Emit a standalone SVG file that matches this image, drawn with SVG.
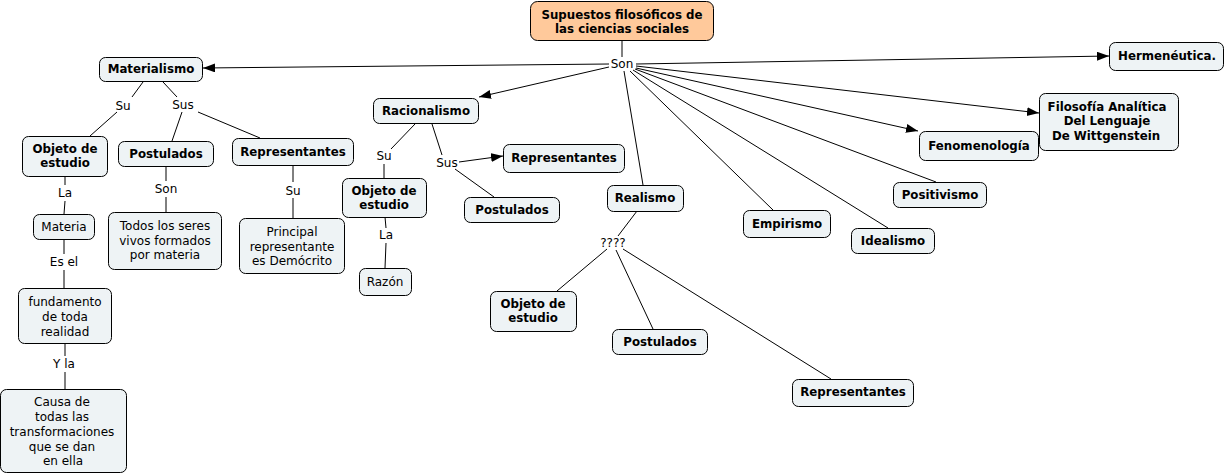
<svg xmlns="http://www.w3.org/2000/svg" width="1227" height="475" viewBox="0 0 1227 475">
<style>
.n rect{fill:#eef3f5;stroke:#000;stroke-width:1}
.root rect{fill:#ffc99b;stroke:#000;stroke-width:1}
text{font-family:"DejaVu Sans","Verdana",sans-serif;fill:#000;text-anchor:middle}
.b{font-weight:bold;font-size:11.8px}
.r{font-size:12px}
.lbl{font-size:12px}
.c line{stroke:#000;stroke-width:1;fill:none}
.c .a{marker-end:url(#ah)}
</style>
<defs>
<marker id="ah" markerUnits="userSpaceOnUse" markerWidth="13" markerHeight="10" refX="12" refY="4.5" orient="auto">
<path d="M0,0 L12,4.5 L0,9 z" fill="#000"/>
</marker>
</defs>
<rect width="1227" height="475" fill="#fff"/>
<g id="connectors" class="c">
<line x1="622" y1="41" x2="622" y2="57"/>
<line class="a" x1="609" y1="64" x2="203" y2="68"/>
<line class="a" x1="609" y1="67" x2="479" y2="97"/>
<line class="a" x1="636" y1="64" x2="1109" y2="56"/>
<line class="a" x1="636" y1="66" x2="1039" y2="113"/>
<line class="a" x1="636" y1="68" x2="918" y2="131"/>
<line x1="635" y1="69" x2="936" y2="182"/>
<line x1="633" y1="70" x2="888" y2="228"/>
<line x1="630" y1="71" x2="773" y2="210"/>
<line x1="624" y1="71" x2="643" y2="185"/>
<line x1="143" y1="82" x2="132" y2="97"/>
<line x1="117" y1="112" x2="90" y2="136"/>
<line x1="163" y1="82" x2="177" y2="97"/>
<line x1="182" y1="112" x2="172" y2="141"/>
<line x1="198" y1="112" x2="260" y2="138"/>
<line x1="65" y1="176" x2="65" y2="185"/>
<line x1="65" y1="201" x2="64" y2="214"/>
<line x1="64" y1="239" x2="64" y2="254"/>
<line x1="64" y1="270" x2="64" y2="288"/>
<line x1="65" y1="343" x2="65" y2="356"/>
<line x1="65" y1="372" x2="65" y2="389"/>
<line x1="166" y1="167" x2="166" y2="181"/>
<line x1="166" y1="197" x2="166" y2="212"/>
<line x1="293" y1="166" x2="293" y2="182"/>
<line x1="293" y1="198" x2="293" y2="218"/>
<line x1="415" y1="124" x2="391" y2="149"/>
<line x1="384" y1="164" x2="384" y2="178"/>
<line x1="432" y1="124" x2="442" y2="155"/>
<line class="a" x1="459" y1="162" x2="503" y2="156"/>
<line x1="455" y1="169" x2="494" y2="197"/>
<line x1="385" y1="217" x2="386" y2="228"/>
<line x1="386" y1="243" x2="385" y2="268"/>
<line x1="637" y1="211" x2="618" y2="236"/>
<line x1="607" y1="249" x2="557" y2="291"/>
<line x1="616" y1="250" x2="653" y2="329"/>
<line x1="623" y1="249" x2="831" y2="379"/>
</g>
<g id="labels" class="lbl">
<text x="622" y="68">Son</text>
<text x="123" y="110">Su</text>
<text x="183" y="109">Sus</text>
<text x="65" y="197">La</text>
<text x="166" y="193">Son</text>
<text x="293" y="195">Su</text>
<text x="64" y="266">Es el</text>
<text x="64" y="368">Y la</text>
<text x="384" y="160">Su</text>
<text x="447" y="167">Sus</text>
<text x="386" y="239">La</text>
<text x="613" y="247">????</text>
</g>
<g id="root" class="root"><rect x="530.5" y="1.5" width="183" height="39" rx="7"/><text class="b" x="622" y="19">Supuestos filosóficos de</text><text class="b" x="622" y="33">las ciencias sociales</text></g>
<g id="materialismo" class="n"><rect x="99.5" y="57.5" width="103" height="24" rx="6"/><text class="b" x="151" y="73">Materialismo</text></g>
<g id="hermeneutica" class="n"><rect x="1109.5" y="42.5" width="114" height="28" rx="6"/><text class="b" x="1167" y="60">Hermenéutica.</text></g>
<g id="filosofia" class="n"><rect x="1039.5" y="93.5" width="139" height="57" rx="6"/><text class="b" x="1107" y="111">Filosofía Analítica</text><text class="b" x="1107" y="125">Del Lenguaje</text><text class="b" x="1106" y="140">De Wittgenstein</text></g>
<g id="fenomenologia" class="n"><rect x="919.5" y="131.5" width="119" height="29" rx="6"/><text class="b" x="979" y="150">Fenomenología</text></g>
<g id="positivismo" class="n"><rect x="893.5" y="182.5" width="93" height="25" rx="6"/><text class="b" x="940" y="199">Positivismo</text></g>
<g id="idealismo" class="n"><rect x="851.5" y="228.5" width="83" height="25" rx="6"/><text class="b" x="893" y="245">Idealismo</text></g>
<g id="empirismo" class="n"><rect x="743.5" y="210.5" width="87" height="27" rx="6"/><text class="b" x="787" y="228">Empirismo</text></g>
<g id="realismo" class="n"><rect x="607.5" y="185.5" width="76" height="26" rx="6"/><text class="b" x="645" y="202">Realismo</text></g>
<g id="racionalismo" class="n"><rect x="373.5" y="98.5" width="105" height="25" rx="6"/><text class="b" x="426" y="115">Racionalismo</text></g>
<g id="rac-representantes" class="n"><rect x="503.5" y="144.5" width="121" height="28" rx="6"/><text class="b" x="564" y="162">Representantes</text></g>
<g id="rac-postulados" class="n"><rect x="464.5" y="197.5" width="95" height="25" rx="6"/><text class="b" x="512" y="214">Postulados</text></g>
<g id="rac-objeto" class="n"><rect x="342.5" y="178.5" width="84" height="39" rx="6"/><text class="b" x="384" y="195">Objeto de</text><text class="b" x="384" y="209">estudio</text></g>
<g id="razon" class="n"><rect x="359.5" y="268.5" width="52" height="27" rx="6"/><text class="r" x="385" y="286">Razón</text></g>
<g id="real-objeto" class="n"><rect x="490.5" y="291.5" width="86" height="40" rx="6"/><text class="b" x="533" y="308">Objeto de</text><text class="b" x="533" y="322">estudio</text></g>
<g id="real-postulados" class="n"><rect x="612.5" y="329.5" width="95" height="25" rx="6"/><text class="b" x="660" y="346">Postulados</text></g>
<g id="real-representantes" class="n"><rect x="792.5" y="379.5" width="121" height="27" rx="6"/><text class="b" x="853" y="396">Representantes</text></g>
<g id="mat-objeto" class="n"><rect x="22.5" y="136.5" width="85" height="40" rx="6"/><text class="b" x="65" y="153">Objeto de</text><text class="b" x="65" y="167">estudio</text></g>
<g id="mat-postulados" class="n"><rect x="118.5" y="141.5" width="95" height="25" rx="6"/><text class="b" x="166" y="158">Postulados</text></g>
<g id="mat-representantes" class="n"><rect x="232.5" y="138.5" width="121" height="27" rx="6"/><text class="b" x="293" y="156">Representantes</text></g>
<g id="materia" class="n"><rect x="33.5" y="214.5" width="61" height="25" rx="6"/><text class="r" x="64" y="231">Materia</text></g>
<g id="todos" class="n"><rect x="108.5" y="212.5" width="113" height="57" rx="6"/><text class="r" x="165" y="230">Todos los seres</text><text class="r" x="165" y="245">vivos formados</text><text class="r" x="165" y="259">por materia</text></g>
<g id="principal" class="n"><rect x="239.5" y="218.5" width="105" height="55" rx="6"/><text class="r" x="292" y="236">Principal</text><text class="r" x="292" y="251">representante</text><text class="r" x="292" y="265">es Demócrito</text></g>
<g id="fundamento" class="n"><rect x="18.5" y="288.5" width="93" height="55" rx="6"/><text class="r" x="65" y="306">fundamento</text><text class="r" x="65" y="321">de toda</text><text class="r" x="65" y="336">realidad</text></g>
<g id="causa" class="n"><rect x="0.5" y="389.5" width="126" height="83" rx="6"/><text class="r" x="62" y="406">Causa de</text><text class="r" x="62" y="421">todas las</text><text class="r" x="62" y="436">transformaciones</text><text class="r" x="62" y="451">que se dan</text><text class="r" x="63" y="465">en ella</text></g>
</svg>
